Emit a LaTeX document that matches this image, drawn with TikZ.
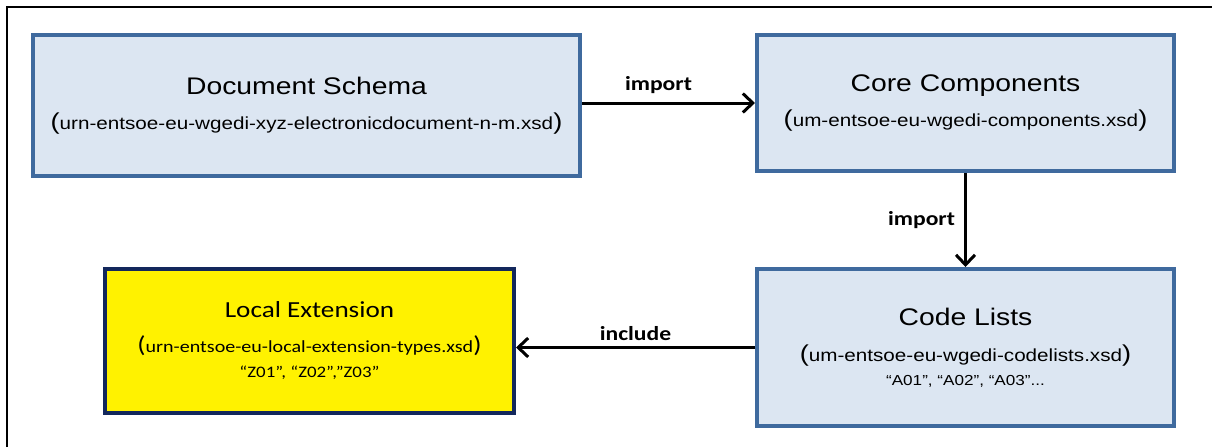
\documentclass[tikz,border=0pt]{standalone}
\usepackage{fontspec}
\setmainfont{Liberation Sans}[FakeStretch=1.18]
\newfontfamily\calfont{Carlito}[FakeStretch=1.18]
\usepackage{xcolor}
\usepackage{tikz}
\usetikzlibrary{arrows.meta,positioning,calc}

\definecolor{boxfill}{HTML}{DCE6F2}
\definecolor{boxline}{HTML}{3F6A9E}
\definecolor{extline}{HTML}{13285C}

\newcommand{\titlefont}{\fontsize{24}{28}\selectfont}
\newcommand{\subfont}{\fontsize{17.5}{21}\selectfont}
\newcommand{\parfont}{\fontsize{23}{23}\selectfont}
\newcommand{\quotefont}{\fontsize{14.5}{18}\selectfont}

\begin{document}
\begin{tikzpicture}[x=1pt,y=-1pt,
	schemabox/.style={rectangle,draw=boxline,fill=boxfill,line width=4pt,align=center,font=\subfont},
	extbox/.style={rectangle,draw=extline,fill=yellow,line width=4pt,align=center,font=\calfont\fontsize{17}{21}\selectfont},
	conn/.style={line width=3pt,-{Straight Barb[length=10pt,width=19pt]}},
	lbl/.style={font=\calfont\bfseries\fontsize{20}{24}\selectfont,inner sep=2pt}]
	\useasboundingbox (0,0) rectangle (1212,447);

	% frame
	\draw[line width=1.5pt] (7,447) -- (7,7) -- (1212,7);

	\node[schemabox,minimum width=547pt,minimum height=141pt] (doc) at (306.5,105.5)
		{{\titlefont Document Schema}\\[14pt]{\parfont(}urn-entsoe-eu-wgedi-xyz-electronicdocument-n-m.xsd{\parfont)}};
	\node[schemabox,minimum width=417pt,minimum height=136pt] (core) at (965.5,103)
		{{\titlefont Core Components}\\[13pt]{\parfont(}um-entsoe-eu-wgedi-components.xsd{\parfont)}};
	\node[schemabox,minimum width=417pt,minimum height=157pt] (codes) at (965.5,347.5)
		{{\titlefont Code Lists}\\[15pt]{\parfont(}um-entsoe-eu-wgedi-codelists.xsd{\parfont)}\\[3pt]{\quotefont “A01”, “A02”, “A03”...}};
	\node[extbox,minimum width=409pt,minimum height=144pt] (ext) at (309.5,341)
		{{\fontsize{23}{27}\selectfont Local Extension}\\[14pt]{\parfont(}urn-entsoe-eu-local-extension-types.xsd{\parfont)}\\[4pt]{\fontsize{16}{19}\selectfont “Z01”, “Z02”,”Z03”}};

	\draw[conn] (doc.east |- core.west) -- node[lbl,above=6pt,xshift=-10pt] (imp1) {import} (core.west);
	\draw[conn] (core.south) -- node[lbl,left=7pt] (imp2) {import} (codes.north);
	\draw[conn] (codes.west) -- node[lbl,above=3pt] (inc) {include} (ext.east |- codes.west);
\end{tikzpicture}
\end{document}
